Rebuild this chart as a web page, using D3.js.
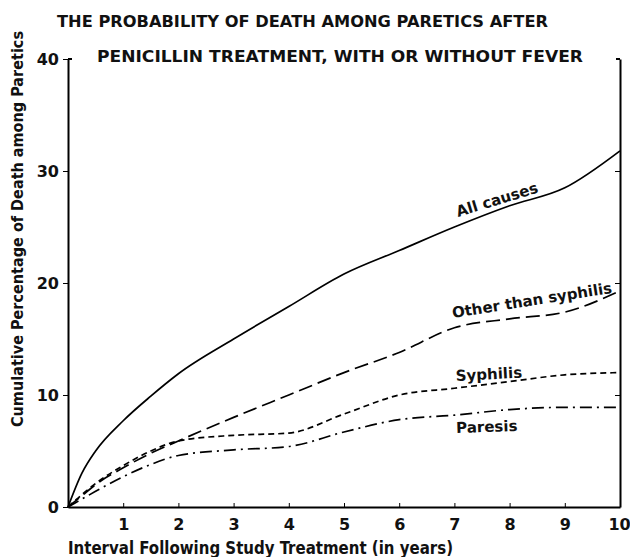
<!DOCTYPE html>
<html lang="en">
<head>
<meta charset="utf-8">
<script src="https://d3js.org/d3.v7.min.js"></script>
<style>
  body { margin: 0; background: #fff; }
  text { font-family: "DejaVu Sans", sans-serif; fill: #111; }
  .axis-title { font-family: "DejaVu Sans Condensed", "DejaVu Sans", sans-serif; }
</style>
</head>
<body>
<script>
// years after treatment, cumulative % of deaths
var years     = [0, 0.25, 0.5, 1, 1.5, 2, 3, 4, 5, 6, 7, 8, 9, 10];
var allCauses = [0, 3.0, 5.0, 7.7, 9.9, 11.9, 15.0, 17.9, 20.8, 22.9, 25.0, 26.9, 28.5, 31.8];
var otherThan = [0, 1.0, 2.0, 3.5, 4.8, 5.9, 8.0, 10.0, 12.0, 13.8, 16.0, 16.8, 17.4, 19.3];
var syphilis  = [0, 1.1, 2.1, 3.7, 5.0, 5.9, 6.4, 6.6, 8.3, 10.0, 10.6, 11.2, 11.8, 12.0];
var paresis   = [0, 0.7, 1.4, 2.7, 3.8, 4.6, 5.1, 5.4, 6.7, 7.8, 8.2, 8.7, 8.9, 8.9];
var xTicks = [1, 2, 3, 4, 5, 6, 7, 8, 9, 10];
var yTicks = [0, 10, 20, 30, 40];

var series = [
  {name: "All causes", values: allCauses, dash: null},
  {name: "Other than syphilis", values: otherThan, dash: "14,6"},
  {name: "Syphilis", values: syphilis, dash: "6,4"},
  {name: "Paresis", values: paresis, dash: "12,5,2,5"}
];

var width = 630, height = 557;
var svg = d3.select("body").append("svg")
    .attr("width", width)
    .attr("height", height);

var x = d3.scaleLinear().domain([0, 10]).range([68, 620]);
var y = d3.scaleLinear().domain([0, 40]).range([507, 59]);

// title
svg.append("text")
    .attr("x", 57).attr("y", 27)
    .attr("textLength", 491).attr("lengthAdjust", "spacingAndGlyphs")
    .style("font-size", "15px").style("font-weight", "bold")
    .text("THE PROBABILITY OF DEATH AMONG PARETICS AFTER");
svg.append("text")
    .attr("x", 97).attr("y", 62)
    .attr("textLength", 486).attr("lengthAdjust", "spacingAndGlyphs")
    .style("font-size", "15px").style("font-weight", "bold")
    .text("PENICILLIN TREATMENT, WITH OR WITHOUT FEVER");

// left axis, ticks outward
var yAxis = svg.append("g")
    .attr("transform", "translate(" + x(0) + ",0)")
    .call(d3.axisLeft(y).tickValues(yTicks).tickSize(5).tickPadding(4).tickSizeOuter(0));
yAxis.select(".domain").attr("stroke-width", 2);
yAxis.selectAll("text").style("font-size", "16px").style("font-weight", "bold");

// bottom axis, ticks pointing up
var xAxis = svg.append("g")
    .attr("transform", "translate(0," + y(0) + ")")
    .call(d3.axisBottom(x).tickValues(xTicks).tickSize(-4).tickPadding(12).tickSizeOuter(0));
xAxis.select(".domain").attr("stroke-width", 2);
xAxis.selectAll("text").style("font-size", "16px").style("font-weight", "bold")
    .attr("dx", function(d) { return d === 10 ? -1 : 0; });

// right frame line with inward ticks
var rAxis = svg.append("g")
    .attr("transform", "translate(" + x(10) + ",0)")
    .call(d3.axisRight(y).tickValues([10, 20, 30]).tickSize(-5).tickFormat("").tickSizeOuter(0));
rAxis.select(".domain").attr("stroke-width", 2);

// small flicks at the top of both frame lines
svg.append("path")
    .attr("d", "M" + x(0) + "," + y(40) + "h4 M" + x(10) + "," + y(40) + "h-4")
    .attr("stroke", "#000").attr("stroke-width", 2);

// axis titles
svg.append("text")
    .attr("class", "axis-title")
    .attr("transform", "translate(23,229) rotate(-90)")
    .attr("text-anchor", "middle")
    .attr("textLength", 396).attr("lengthAdjust", "spacingAndGlyphs")
    .style("font-size", "15px").style("font-weight", "bold")
    .text("Cumulative Percentage of Death among Paretics");
svg.append("text")
    .attr("class", "axis-title")
    .attr("x", 68).attr("y", 554)
    .attr("textLength", 385).attr("lengthAdjust", "spacingAndGlyphs")
    .style("font-size", "17px").style("font-weight", "bold")
    .text("Interval Following Study Treatment (in years)");

// curves
var line = d3.line()
    .x(function(d, i) { return x(years[i]); })
    .y(function(d) { return y(d); })
    .curve(d3.curveMonotoneX);

svg.selectAll(".series")
    .data(series)
    .enter().append("path")
    .attr("class", "series")
    .attr("d", function(d) { return line(d.values); })
    .attr("fill", "none")
    .attr("stroke", "#000")
    .attr("stroke-width", 1.7)
    .attr("stroke-dasharray", function(d) { return d.dash; });

// curve labels
var labels = [
  {text: "All causes", x: 7.8, v: 27.0, rot: -17},
  {text: "Other than syphilis", x: 8.42, v: 18.0, rot: -9},
  {text: "Syphilis", x: 7.63, v: 11.4, rot: -3},
  {text: "Paresis", x: 7.59, v: 6.7, rot: -2}
];
svg.selectAll(".lbl")
    .data(labels)
    .enter().append("text")
    .attr("class", "lbl")
    .attr("text-anchor", "middle")
    .attr("transform", function(d) {
      return "translate(" + x(d.x) + "," + y(d.v) + ") rotate(" + d.rot + ")";
    })
    .style("font-size", "15px").style("font-weight", "bold")
    .text(function(d) { return d.text; });
</script>
</body>
</html>
